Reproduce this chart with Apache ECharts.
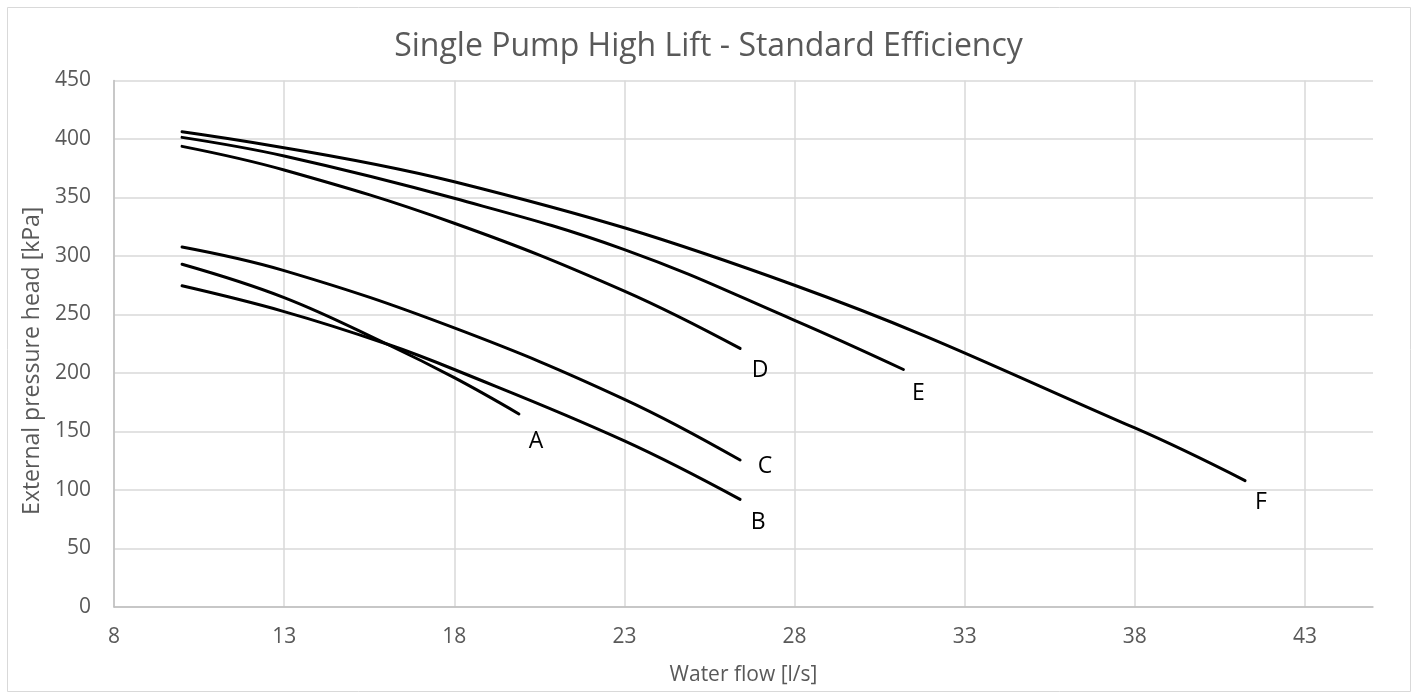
<!DOCTYPE html>
<html>
<head>
<meta charset="utf-8">
<script src="https://cdn.jsdelivr.net/npm/echarts@6/dist/echarts.min.js"></script>
<style>
html,body{margin:0;padding:0;background:#fff;}
#chart{width:1417px;height:699px;}
</style>
</head>
<body>
<div id="chart"></div>
<script>
// ---- data ----
const xTicks = [8, 13, 18, 23, 28, 33, 38, 43];

const flowA = [10, 13, 16, 18, 19.9];
const headA = [293, 264.5, 225, 196, 165];

const flowB = [10, 13, 16, 18, 23, 26.4];
const headB = [274.5, 252.5, 225, 203, 142, 92];

const flowC = [10, 13, 18, 23, 26.4];
const headC = [307.7, 287.5, 238.5, 177.5, 125.6];

const flowD = [10, 13, 18, 23, 26.4];
const headD = [393.7, 373.5, 328, 270, 221];

const flowE = [10, 13, 18, 23, 28, 31.2];
const headE = [401.4, 385.5, 349.3, 305.5, 245, 203];

const flowF = [10, 18, 28, 38, 41.24];
const headF = [406.2, 363.5, 275, 153, 108];

const curveNames = ['A', 'B', 'C', 'D', 'E', 'F'];
const flows = [flowA, flowB, flowC, flowD, flowE, flowF];
const heads = [headA, headB, headC, headD, headE, headF];

// ---- styling (label placement relative to curve end) ----
const labelOffsets = {
  A: [17, 28], B: [18, 23], C: [25, 6], D: [20, 22], E: [15, 24], F: [16, 22]
};

const FONT = 'Open Sans';
const GREY = '#595959';

const series = curveNames.map((name, i) => ({
  name: name,
  type: 'line',
  data: flows[i].map((x, j) => [x, heads[i][j]]),
  smooth: 0.4,
  showSymbol: false,
  symbol: 'none',
  lineStyle: { color: '#000', width: 3, cap: 'round' },
  itemStyle: { color: '#000' },
  endLabel: {
    show: true,
    formatter: '{a}',
    distance: 0,
    align: 'center',
    verticalAlign: 'middle',
    offset: labelOffsets[name],
    color: '#000',
    fontFamily: FONT,
    fontSize: 23
  },
  emphasis: { disabled: true }
}));

const chart = echarts.init(document.getElementById('chart'), null, { renderer: 'canvas' });
chart.setOption({
  animation: false,
  backgroundColor: '#fff',
  title: {
    text: 'Single Pump High Lift - Standard Efficiency',
    left: 'center',
    top: 26,
    textStyle: { color: GREY, fontFamily: FONT, fontSize: 32, fontWeight: 'normal' }
  },
  graphic: [{
    type: 'rect',
    shape: { x: 7.5, y: 7.5, width: 1403, height: 684 },
    style: { fill: 'none', stroke: '#d9d9d9', lineWidth: 1 },
    silent: true
  }],
  grid: { left: 114, right: 44, top: 80.5, bottom: 92, containLabel: false },
  xAxis: {
    type: 'value',
    min: 8,
    max: 45,
    name: 'Water flow [l/s]',
    nameLocation: 'middle',
    nameGap: 58,
    nameTextStyle: { color: GREY, fontFamily: FONT, fontSize: 21 },
    axisLine: { show: true, lineStyle: { color: '#bfbfbf', width: 1.5 } },
    axisTick: { show: false, customValues: xTicks },
    axisLabel: { customValues: xTicks, color: GREY, fontFamily: FONT, fontSize: 21, margin: 20 },
    splitLine: { show: true, lineStyle: { color: '#d9d9d9', width: 1.5 } }
  },
  yAxis: {
    type: 'value',
    min: 0,
    max: 450,
    interval: 50,
    name: 'External pressure head [kPa]',
    nameLocation: 'middle',
    nameGap: 70,
    nameTextStyle: { color: GREY, fontFamily: FONT, fontSize: 23, padding: [0, 34, 0, 0] },
    axisLine: { show: true, lineStyle: { color: '#bfbfbf', width: 1.5 } },
    axisTick: { show: false },
    axisLabel: { color: GREY, fontFamily: FONT, fontSize: 21, margin: 23 },
    splitLine: { show: true, lineStyle: { color: '#d9d9d9', width: 1.5 } }
  },
  series: series
});
</script>
</body>
</html>
